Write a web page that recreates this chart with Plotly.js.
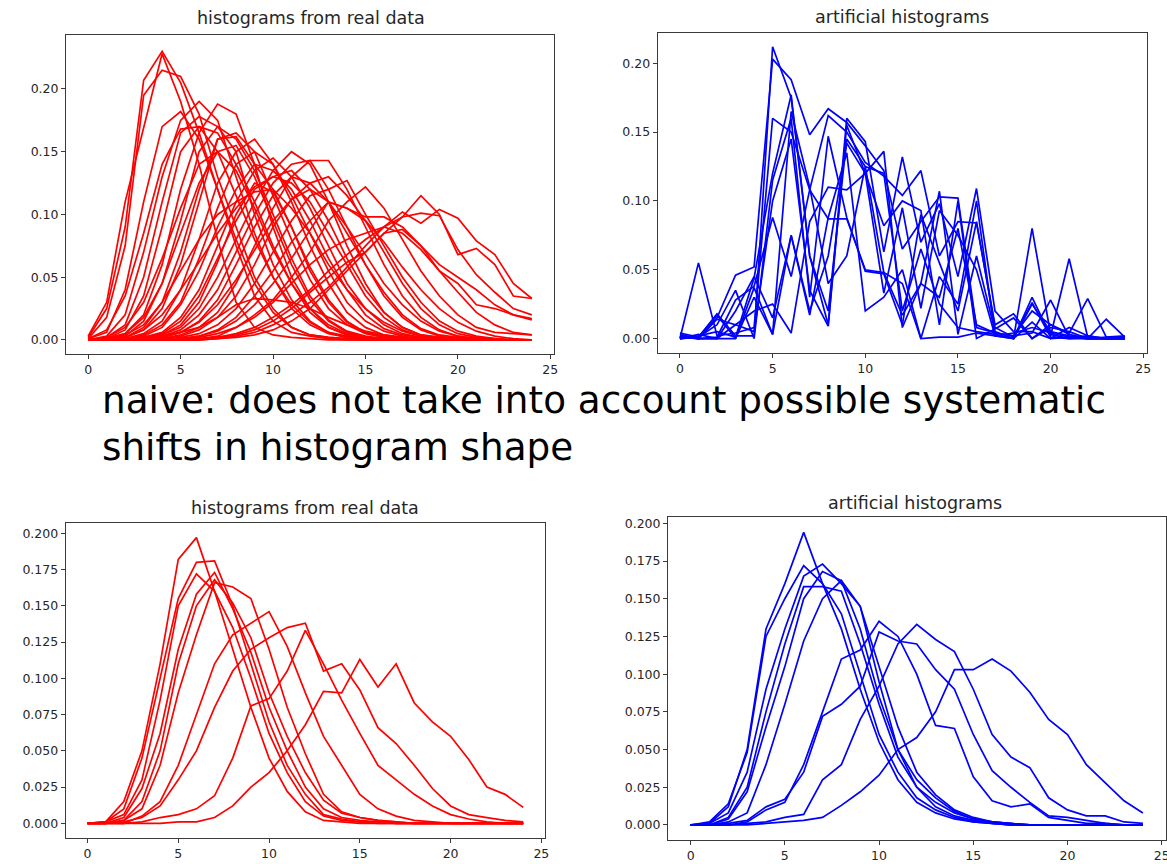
<!DOCTYPE html>
<html>
<head>
<meta charset="utf-8">
<script src="https://cdn.plot.ly/plotly-3.0.1.min.js"></script>
<style>
  html, body { margin: 0; padding: 0; background: #ffffff; }
  #chart { width: 1167px; height: 864px; }
</style>
</head>
<body>
<div id="chart"></div>
<script>
// Histogram bin index shared by every curve
const bins = [0,1,2,3,4,5,6,7,8,9,10,11,12,13,14,15,16,17,18,19,20,21,22,23,24];

// Upper left: normalised histograms measured on real data
const realTop = [
  [0.002,0.025,0.090,0.207,0.230,0.205,0.165,0.120,0.075,0.035,0.015,0.006,0.003,0.001,0,0,0,0,0,0,0,0,0,0,0],
  [0.001,0.018,0.075,0.195,0.215,0.210,0.180,0.130,0.090,0.050,0.025,0.010,0.004,0.002,0.001,0,0,0,0,0,0,0,0,0,0],
  [0.003,0.030,0.110,0.170,0.228,0.190,0.140,0.080,0.030,0.010,0.004,0.002,0.001,0,0,0,0,0,0,0,0,0,0,0,0],
  [0.001,0.006,0.040,0.110,0.170,0.182,0.160,0.120,0.080,0.045,0.022,0.010,0.004,0.002,0.001,0,0,0,0,0,0,0,0,0,0],
  [0,0.003,0.020,0.070,0.130,0.175,0.190,0.175,0.130,0.085,0.050,0.025,0.012,0.005,0.002,0.001,0,0,0,0,0,0,0,0,0],
  [0,0.002,0.012,0.050,0.110,0.165,0.178,0.170,0.150,0.100,0.060,0.032,0.015,0.006,0.003,0.001,0,0,0,0,0,0,0,0,0],
  [0,0.001,0.008,0.035,0.090,0.150,0.170,0.165,0.140,0.110,0.075,0.045,0.022,0.010,0.004,0.002,0.001,0,0,0,0,0,0,0,0],
  [0,0.001,0.005,0.020,0.060,0.120,0.165,0.188,0.180,0.140,0.090,0.050,0.025,0.010,0.004,0.002,0.001,0,0,0,0,0,0,0,0],
  [0,0,0.003,0.015,0.045,0.095,0.150,0.170,0.160,0.135,0.100,0.065,0.035,0.016,0.007,0.003,0.001,0,0,0,0,0,0,0,0],
  [0,0,0.002,0.010,0.030,0.070,0.120,0.160,0.165,0.150,0.115,0.080,0.048,0.025,0.012,0.005,0.002,0.001,0,0,0,0,0,0,0],
  [0,0,0.002,0.008,0.025,0.060,0.110,0.160,0.162,0.140,0.120,0.090,0.055,0.030,0.014,0.006,0.003,0.001,0,0,0,0,0,0,0],
  [0,0,0.001,0.005,0.015,0.040,0.080,0.125,0.150,0.160,0.140,0.110,0.075,0.045,0.022,0.010,0.004,0.002,0.001,0,0,0,0,0,0],
  [0,0,0,0.004,0.012,0.030,0.065,0.105,0.140,0.150,0.140,0.115,0.085,0.055,0.030,0.015,0.007,0.003,0.001,0,0,0,0,0,0],
  [0,0,0,0.003,0.010,0.028,0.055,0.090,0.120,0.140,0.135,0.120,0.095,0.065,0.040,0.020,0.009,0.004,0.002,0.001,0,0,0,0,0],
  [0,0,0,0.002,0.006,0.018,0.040,0.075,0.110,0.135,0.145,0.130,0.105,0.075,0.045,0.025,0.012,0.005,0.002,0.001,0,0,0,0,0],
  [0,0,0,0.002,0.005,0.015,0.035,0.065,0.095,0.120,0.130,0.125,0.110,0.085,0.060,0.035,0.018,0.008,0.003,0.001,0,0,0,0,0],
  [0,0,0,0.001,0.004,0.010,0.025,0.050,0.080,0.110,0.135,0.150,0.140,0.110,0.075,0.045,0.022,0.010,0.004,0.002,0.001,0,0,0,0],
  [0,0,0,0.001,0.003,0.008,0.020,0.040,0.070,0.100,0.125,0.140,0.143,0.120,0.090,0.060,0.035,0.018,0.008,0.003,0.001,0,0,0,0],
  [0,0,0,0,0.002,0.006,0.015,0.032,0.060,0.090,0.115,0.130,0.125,0.110,0.085,0.060,0.038,0.020,0.009,0.004,0.002,0.001,0,0,0],
  [0,0,0,0,0.001,0.004,0.010,0.022,0.045,0.075,0.105,0.130,0.143,0.143,0.120,0.090,0.060,0.035,0.018,0.008,0.003,0.001,0,0,0],
  [0,0,0,0,0.001,0.003,0.008,0.018,0.035,0.060,0.090,0.112,0.125,0.130,0.115,0.095,0.070,0.045,0.025,0.012,0.005,0.002,0.001,0,0],
  [0,0,0,0,0,0.002,0.005,0.012,0.025,0.045,0.070,0.095,0.115,0.120,0.127,0.100,0.075,0.050,0.030,0.015,0.007,0.003,0.001,0,0],
  [0,0,0,0,0,0.001,0.003,0.008,0.018,0.035,0.055,0.078,0.095,0.110,0.105,0.098,0.098,0.090,0.075,0.060,0.050,0.040,0.028,0.020,0.016],
  [0,0,0,0,0,0,0,0.001,0.003,0.006,0.012,0.020,0.030,0.042,0.058,0.075,0.090,0.102,0.093,0.104,0.097,0.079,0.068,0.045,0.033],
  [0,0,0,0,0,0,0.001,0.002,0.004,0.008,0.015,0.025,0.038,0.050,0.062,0.070,0.085,0.098,0.115,0.100,0.068,0.073,0.060,0.035,0.033],
  [0,0,0,0,0,0.001,0.002,0.005,0.010,0.018,0.030,0.045,0.060,0.072,0.080,0.085,0.090,0.098,0.101,0.099,0.072,0.052,0.038,0.025,0.020],
  [0,0,0,0,0,0,0,0.001,0.002,0.004,0.008,0.015,0.025,0.040,0.055,0.070,0.085,0.088,0.075,0.055,0.045,0.028,0.025,0.020,0.017],
  [0,0,0,0.001,0.003,0.006,0.010,0.018,0.028,0.033,0.032,0.030,0.025,0.018,0.012,0.007,0.004,0.002,0.001,0,0,0,0,0,0],
  [0,0,0,0,0,0,0.001,0.003,0.010,0.020,0.032,0.050,0.070,0.095,0.110,0.122,0.105,0.080,0.055,0.035,0.020,0.010,0.006,0.005,0.004],
  [0,0.001,0.004,0.012,0.030,0.055,0.080,0.100,0.110,0.118,0.120,0.105,0.085,0.060,0.040,0.025,0.014,0.007,0.003,0.001,0,0,0,0,0],
  [0,0.001,0.005,0.018,0.045,0.085,0.125,0.150,0.155,0.130,0.095,0.060,0.032,0.015,0.006,0.002,0.001,0,0,0,0,0,0,0,0],
  [0,0,0,0,0.002,0.006,0.014,0.028,0.048,0.072,0.095,0.112,0.120,0.110,0.090,0.068,0.045,0.028,0.015,0.007,0.003,0.001,0,0,0],
  [0.001,0.008,0.035,0.085,0.140,0.168,0.170,0.150,0.115,0.080,0.050,0.028,0.014,0.006,0.002,0.001,0,0,0,0,0,0,0,0,0],
  [0,0,0.002,0.008,0.020,0.040,0.062,0.085,0.105,0.122,0.130,0.135,0.120,0.095,0.065,0.040,0.022,0.010,0.004,0.002,0.001,0,0,0,0],
  [0,0,0,0.001,0.004,0.012,0.030,0.062,0.100,0.125,0.118,0.090,0.058,0.032,0.015,0.006,0.002,0.001,0,0,0,0,0,0,0],
  [0,0,0,0,0,0.001,0.003,0.007,0.015,0.028,0.045,0.065,0.088,0.110,0.105,0.095,0.078,0.058,0.040,0.025,0.014,0.007,0.003,0.001,0],
  [0,0.002,0.010,0.030,0.065,0.105,0.140,0.150,0.135,0.105,0.072,0.045,0.025,0.012,0.005,0.002,0.001,0,0,0,0,0,0,0,0],
  [0,0,0,0,0,0,0,0.002,0.005,0.010,0.018,0.028,0.040,0.055,0.068,0.080,0.090,0.085,0.072,0.055,0.038,0.022,0.012,0.006,0.004]
];

// Upper right: artificial histograms sampled without shape shifts
const artificialTop = [
  [0.000,0.055,0.002,0.004,0.008,0.160,0.150,0.108,0.087,0.087,0.050,0.048,0.040,0.000,0.001,0.001,0.004,0.002,0.000,0.080,0.003,0.000,0.001,0.000,0.000],
  [0.004,0.001,0.018,0.002,0.002,0.212,0.175,0.060,0.020,0.145,0.125,0.120,0.020,0.065,0.025,0.008,0.005,0.003,0.000,0.030,0.002,0.058,0.001,0.000,0.001],
  [0.002,0.000,0.015,0.046,0.052,0.203,0.188,0.148,0.167,0.157,0.140,0.122,0.065,0.085,0.103,0.102,0.008,0.004,0.002,0.004,0.028,0.001,0.000,0.014,0.001],
  [0.000,0.002,0.005,0.001,0.044,0.120,0.177,0.060,0.010,0.160,0.143,0.063,0.132,0.070,0.098,0.045,0.109,0.020,0.005,0.005,0.000,0.008,0.002,0.000,0.000],
  [0.001,0.000,0.001,0.028,0.038,0.088,0.045,0.108,0.162,0.150,0.128,0.118,0.104,0.122,0.060,0.085,0.084,0.010,0.018,0.000,0.010,0.004,0.029,0.001,0.002],
  [0.000,0.003,0.000,0.000,0.030,0.003,0.075,0.017,0.088,0.135,0.020,0.030,0.050,0.000,0.045,0.025,0.100,0.002,0.000,0.025,0.005,0.002,0.000,0.001,0.000],
  [0.003,0.000,0.014,0.010,0.020,0.025,0.004,0.085,0.110,0.108,0.120,0.136,0.008,0.040,0.030,0.080,0.010,0.004,0.002,0.020,0.010,0.003,0.000,0.000,0.000],
  [0.000,0.001,0.010,0.035,0.000,0.115,0.160,0.030,0.147,0.088,0.049,0.047,0.010,0.090,0.055,0.020,0.085,0.008,0.001,0.026,0.001,0.000,0.000,0.000,0.001],
  [0.001,0.000,0.000,0.020,0.045,0.015,0.075,0.020,0.060,0.142,0.120,0.082,0.100,0.093,0.010,0.100,0.000,0.007,0.015,0.000,0.008,0.005,0.000,0.000,0.000],
  [0.000,0.001,0.017,0.000,0.037,0.003,0.165,0.110,0.040,0.060,0.125,0.048,0.017,0.040,0.107,0.003,0.060,0.005,0.000,0.012,0.000,0.001,0.002,0.000,0.000],
  [0.002,0.000,0.000,0.010,0.005,0.100,0.145,0.035,0.009,0.155,0.120,0.033,0.095,0.022,0.093,0.075,0.050,0.002,0.004,0.008,0.004,0.001,0.000,0.000,0.001]
];

// Lower left: real-data histograms, reduced set
const realBottom = [
  [0.000,0.001,0.015,0.050,0.110,0.182,0.197,0.160,0.120,0.080,0.045,0.022,0.008,0.002,0.001,0,0,0,0,0,0,0,0,0,0],
  [0.000,0.001,0.010,0.045,0.100,0.155,0.180,0.181,0.150,0.110,0.070,0.040,0.020,0.006,0.003,0.001,0.001,0,0,0,0,0,0,0,0],
  [0.000,0.001,0.006,0.030,0.085,0.150,0.172,0.160,0.135,0.100,0.062,0.035,0.015,0.005,0.002,0.001,0,0,0,0,0,0,0,0,0],
  [0.000,0.000,0.004,0.024,0.062,0.120,0.158,0.173,0.148,0.118,0.080,0.050,0.025,0.010,0.004,0.002,0.001,0,0,0,0,0,0,0,0],
  [0.000,0.000,0.002,0.010,0.040,0.090,0.130,0.166,0.163,0.155,0.120,0.080,0.048,0.020,0.008,0.004,0.002,0.001,0,0,0,0,0,0,0],
  [0.000,0.000,0.002,0.015,0.050,0.110,0.150,0.168,0.152,0.128,0.090,0.060,0.035,0.016,0.007,0.004,0.002,0.001,0,0,0,0,0,0,0],
  [0.000,0.000,0.000,0.005,0.015,0.040,0.075,0.110,0.130,0.138,0.146,0.122,0.090,0.060,0.040,0.020,0.010,0.005,0.002,0.001,0,0,0,0,0],
  [0.000,0.000,0.001,0.004,0.012,0.030,0.050,0.080,0.105,0.120,0.128,0.135,0.138,0.105,0.110,0.092,0.066,0.055,0.040,0.024,0.012,0.006,0.004,0.002,0.001],
  [0.000,0.000,0.000,0.001,0.004,0.006,0.010,0.019,0.045,0.081,0.086,0.105,0.133,0.110,0.085,0.062,0.040,0.030,0.020,0.012,0.006,0.003,0.001,0,0],
  [0.000,0.000,0.000,0.000,0.000,0.001,0.001,0.004,0.012,0.025,0.035,0.050,0.068,0.091,0.090,0.113,0.094,0.110,0.083,0.070,0.060,0.044,0.025,0.020,0.011]
];

// Lower right: artificial histograms generated with shape shifts
const artificialBottom = [
  [0.000,0.001,0.012,0.050,0.130,0.160,0.194,0.160,0.130,0.090,0.055,0.030,0.015,0.008,0.004,0.002,0.001,0,0,0,0,0,0,0,0],
  [0.000,0.002,0.014,0.048,0.125,0.150,0.172,0.160,0.140,0.100,0.060,0.035,0.018,0.010,0.005,0.002,0.001,0,0,0,0,0,0,0,0],
  [0.000,0.001,0.008,0.035,0.090,0.130,0.165,0.173,0.160,0.145,0.095,0.050,0.025,0.012,0.006,0.003,0.001,0,0,0,0,0,0,0,0],
  [0.000,0.000,0.005,0.025,0.075,0.120,0.158,0.158,0.155,0.120,0.080,0.045,0.025,0.015,0.008,0.004,0.002,0.001,0,0,0,0,0,0,0],
  [0.000,0.000,0.004,0.022,0.065,0.105,0.150,0.168,0.162,0.130,0.085,0.050,0.030,0.018,0.009,0.004,0.002,0.001,0,0,0,0,0,0,0],
  [0.000,0.000,0.002,0.008,0.040,0.080,0.122,0.150,0.162,0.145,0.105,0.065,0.035,0.020,0.010,0.005,0.002,0.001,0,0,0,0,0,0,0],
  [0.000,0.000,0.001,0.003,0.012,0.017,0.035,0.072,0.080,0.092,0.128,0.122,0.120,0.103,0.090,0.060,0.036,0.025,0.015,0.006,0.005,0.003,0.001,0,0],
  [0.000,0.000,0.000,0.002,0.010,0.015,0.040,0.075,0.110,0.116,0.135,0.125,0.100,0.066,0.064,0.032,0.016,0.012,0.014,0.005,0.003,0.001,0.001,0,0],
  [0.000,0.000,0.000,0.001,0.002,0.005,0.007,0.030,0.040,0.070,0.092,0.120,0.133,0.123,0.115,0.090,0.060,0.045,0.038,0.018,0.010,0.006,0.006,0.002,0.001],
  [0.000,0.000,0.000,0.000,0.001,0.002,0.003,0.005,0.013,0.022,0.033,0.050,0.058,0.075,0.103,0.103,0.110,0.102,0.088,0.070,0.060,0.040,0.028,0.016,0.008]
];

const panelTitles = ["histograms from real data", "artificial histograms", "histograms from real data", "artificial histograms"];
const captionLines = ["naive: does not take into account possible systematic", "shifts in histogram shape"];

const W = 1167, H = 864;
const RED = "#ff0000", BLUE = "#0000ff";
const INK = "#262626", FRAME = "#3a3a3a";

// Panel frames in pixels, with the value range each y axis spans
const panels = [
  { series: realTop,          color: RED,  l: 66,    r: 554,    t: 35,    b: 354,   yr: [-0.0112, 0.2430], dy: 0.05,  fmt: ".2f", tx: 311, ty: 18 },
  { series: artificialTop,    color: BLUE, l: 657.7, r: 1147,   t: 33,    b: 353,   yr: [-0.0105, 0.2220], dy: 0.05,  fmt: ".2f", tx: 902, ty: 17 },
  { series: realBottom,       color: RED,  l: 65.7,  r: 545,    t: 522.7, b: 837.7, yr: [-0.0099, 0.2073], dy: 0.025, fmt: ".3f", tx: 305, ty: 508 },
  { series: artificialBottom, color: BLUE, l: 668,   r: 1165.5, t: 516.7, b: 839.6, yr: [-0.0097, 0.2044], dy: 0.025, fmt: ".3f", tx: 915, ty: 503 }
];

const tickFont = { family: "DejaVu Sans, sans-serif", size: 12.5, color: INK };

const traces = [];
const layout = {
  width: W, height: H,
  margin: { l: 0, r: 0, t: 0, b: 0 },
  paper_bgcolor: "#ffffff",
  plot_bgcolor: "#ffffff",
  showlegend: false,
  annotations: []
};

panels.forEach((p, i) => {
  const n = i + 1;
  const xa = n === 1 ? "x" : "x" + n;
  const ya = n === 1 ? "y" : "y" + n;
  p.series.forEach(vals => {
    traces.push({
      x: bins, y: vals, xaxis: xa, yaxis: ya,
      type: "scatter", mode: "lines",
      line: { color: p.color, width: 1.7 },
      hoverinfo: "skip"
    });
  });
  const common = {
    showgrid: false, zeroline: false,
    showline: true, mirror: true, linecolor: FRAME, linewidth: 1,
    ticks: "outside", ticklen: 4, tickwidth: 1, tickcolor: FRAME,
    tickfont: tickFont, fixedrange: true, ticklabeloverflow: "allow"
  };
  layout["xaxis" + (n === 1 ? "" : n)] = Object.assign({}, common, {
    domain: [p.l / W, p.r / W], anchor: ya,
    range: [-1.2, 25.2], tick0: 0, dtick: 5
  });
  layout["yaxis" + (n === 1 ? "" : n)] = Object.assign({}, common, {
    domain: [1 - p.b / H, 1 - p.t / H], anchor: xa,
    range: p.yr, tick0: 0, dtick: p.dy, tickformat: p.fmt
  });
  layout.annotations.push({
    xref: "paper", yref: "paper", x: p.tx / W, y: 1 - p.ty / H,
    xanchor: "center", yanchor: "middle", showarrow: false,
    text: panelTitles[i],
    font: { family: "DejaVu Sans, sans-serif", size: 17.5, color: INK }
  });
});

// Two-line caption between the upper and lower rows
[400, 447].forEach((cy, k) => {
  layout.annotations.push({
    xref: "paper", yref: "paper", x: 100 / W, y: 1 - cy / H,
    xanchor: "left", yanchor: "middle", showarrow: false,
    text: captionLines[k],
    font: { family: "DejaVu Sans, sans-serif", size: 37.3, color: "#000000" }
  });
});

Plotly.newPlot("chart", traces, layout, { staticPlot: true, displayModeBar: false });
</script>
</body>
</html>
